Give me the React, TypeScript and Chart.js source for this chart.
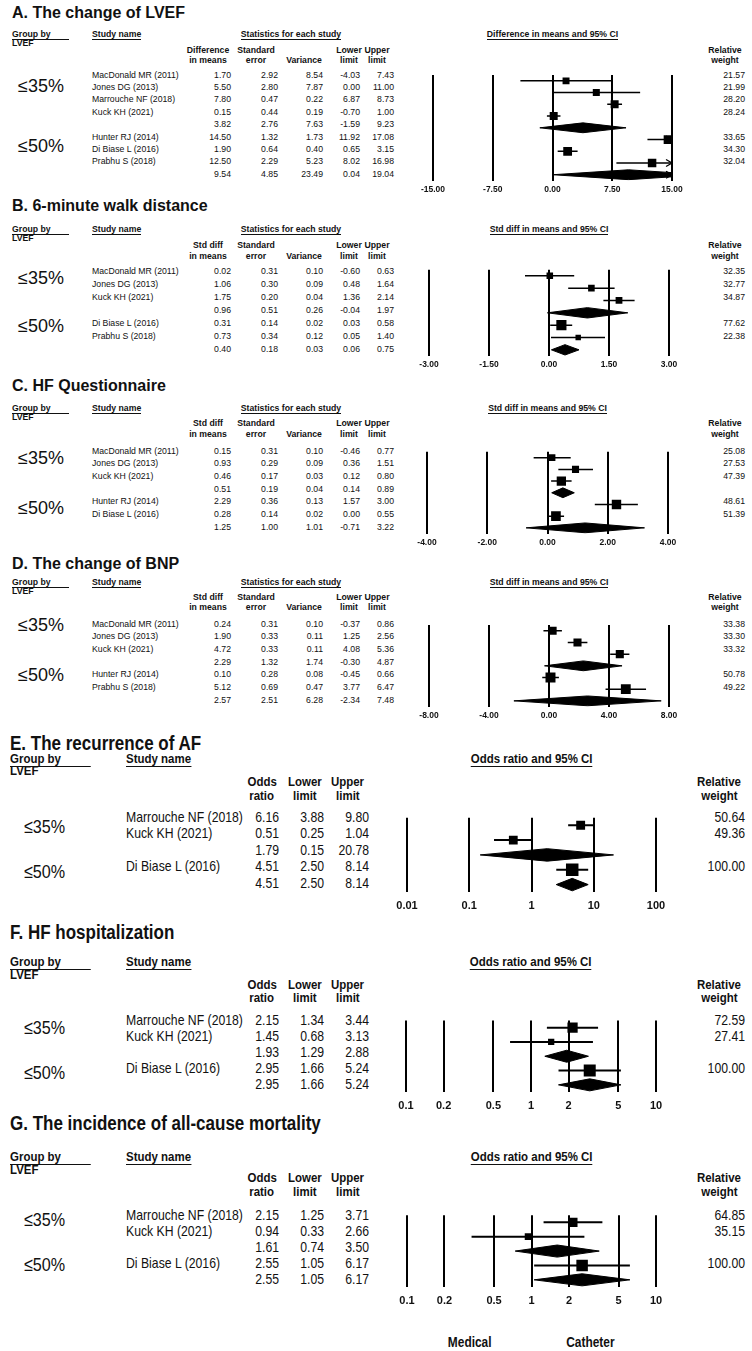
import React, { useEffect, useRef } from "react";
import { Chart, registerables } from "chart.js";
Chart.register(...registerables);

const SANS = "'Liberation Sans', Arial, Helvetica, sans-serif";
const NARROW_SCALE = 0.85;
const GROUP_LABELS = ["≤35%", "≤50%"];

// ---------- Panel A: change of LVEF ----------
const A_studies = ["MacDonald MR (2011)", "Jones DG (2013)", "Marrouche NF (2018)", "Kuck KH (2021)", "", "Hunter RJ (2014)", "Di Biase L (2016)", "Prabhu S (2018)", ""];
const A_est = [1.7, 5.5, 7.8, 0.15, 3.82, 14.5, 1.9, 12.5, 9.54];
const A_se = [2.92, 2.8, 0.47, 0.44, 2.76, 1.32, 0.64, 2.29, 4.85];
const A_var = [8.54, 7.87, 0.22, 0.19, 7.63, 1.73, 0.4, 5.23, 23.49];
const A_lower = [-4.03, 0.0, 6.87, -0.7, -1.59, 11.92, 0.65, 8.02, 0.04];
const A_upper = [7.43, 11.0, 8.73, 1.0, 9.23, 17.08, 3.15, 16.98, 19.04];
const A_weight = [21.57, 21.99, 28.2, 28.24, null, 33.65, 34.3, 32.04, null];
const A_ticks = [-15, -7.5, 0, 7.5, 15];

// ---------- Panel B: 6-minute walk distance ----------
const B_studies = ["MacDonald MR (2011)", "Jones DG (2013)", "Kuck KH (2021)", "", "Di Biase L (2016)", "Prabhu S (2018)", ""];
const B_est = [0.02, 1.06, 1.75, 0.96, 0.31, 0.73, 0.4];
const B_se = [0.31, 0.3, 0.2, 0.51, 0.14, 0.34, 0.18];
const B_var = [0.1, 0.09, 0.04, 0.26, 0.02, 0.12, 0.03];
const B_lower = [-0.6, 0.48, 1.36, -0.04, 0.03, 0.05, 0.06];
const B_upper = [0.63, 1.64, 2.14, 1.97, 0.58, 1.4, 0.75];
const B_weight = [32.35, 32.77, 34.87, null, 77.62, 22.38, null];
const B_ticks = [-3, -1.5, 0, 1.5, 3];

// ---------- Panel C: HF Questionnaire ----------
const C_studies = ["MacDonald MR (2011)", "Jones DG (2013)", "Kuck KH (2021)", "", "Hunter RJ (2014)", "Di Biase L (2016)", ""];
const C_est = [0.15, 0.93, 0.46, 0.51, 2.29, 0.28, 1.25];
const C_se = [0.31, 0.29, 0.17, 0.19, 0.36, 0.14, 1.0];
const C_var = [0.1, 0.09, 0.03, 0.04, 0.13, 0.02, 1.01];
const C_lower = [-0.46, 0.36, 0.12, 0.14, 1.57, 0.0, -0.71];
const C_upper = [0.77, 1.51, 0.8, 0.89, 3.0, 0.55, 3.22];
const C_weight = [25.08, 27.53, 47.39, null, 48.61, 51.39, null];
const C_ticks = [-4, -2, 0, 2, 4];

// ---------- Panel D: change of BNP ----------
const D_studies = ["MacDonald MR (2011)", "Jones DG (2013)", "Kuck KH (2021)", "", "Hunter RJ (2014)", "Prabhu S (2018)", ""];
const D_est = [0.24, 1.9, 4.72, 2.29, 0.1, 5.12, 2.57];
const D_se = [0.31, 0.33, 0.33, 1.32, 0.28, 0.69, 2.51];
const D_var = [0.1, 0.11, 0.11, 1.74, 0.08, 0.47, 6.28];
const D_lower = [-0.37, 1.25, 4.08, -0.3, -0.45, 3.77, -2.34];
const D_upper = [0.86, 2.56, 5.36, 4.87, 0.66, 6.47, 7.48];
const D_weight = [33.38, 33.3, 33.32, null, 50.78, 49.22, null];
const D_ticks = [-8, -4, 0, 4, 8];

// ---------- Panel E: recurrence of AF ----------
const E_studies = ["Marrouche NF (2018)", "Kuck KH (2021)", "", "Di Biase L (2016)", ""];
const E_or = [6.16, 0.51, 1.79, 4.51, 4.51];
const E_lower = [3.88, 0.25, 0.15, 2.5, 2.5];
const E_upper = [9.8, 1.04, 20.78, 8.14, 8.14];
const E_weight = [50.64, 49.36, null, 100.0, null];
const E_ticks = [0.01, 0.1, 1, 10, 100];

// ---------- Panel F: HF hospitalization ----------
const F_studies = ["Marrouche NF (2018)", "Kuck KH (2021)", "", "Di Biase L (2016)", ""];
const F_or = [2.15, 1.45, 1.93, 2.95, 2.95];
const F_lower = [1.34, 0.68, 1.29, 1.66, 1.66];
const F_upper = [3.44, 3.13, 2.88, 5.24, 5.24];
const F_weight = [72.59, 27.41, null, 100.0, null];
const F_ticks = [0.1, 0.2, 0.5, 1, 2, 5, 10];

// ---------- Panel G: all-cause mortality ----------
const G_studies = ["Marrouche NF (2018)", "Kuck KH (2021)", "", "Di Biase L (2016)", ""];
const G_or = [2.15, 0.94, 1.61, 2.55, 2.55];
const G_lower = [1.25, 0.33, 0.74, 1.05, 1.05];
const G_upper = [3.71, 2.66, 3.5, 6.17, 6.17];
const G_weight = [64.85, 35.15, null, 100.0, null];
const G_ticks = [0.1, 0.2, 0.5, 1, 2, 5, 10];

const FOOT_LABELS = ["Medical", "Catheter"];

type Layout = {
  titleY: number; hdrY: number; lvefY: number; colY: [number, number];
  row0: number; rowH: number; plotL: number; plotR: number; groupRows: number[]; boxK: number;
};
type Spec = {
  title: string; narrow: boolean; log: boolean;
  studies: string[]; est: number[]; se?: number[]; vari?: number[]; lower: number[]; upper: number[];
  weight: (number | null)[]; ticks: number[]; colHeads: [string, string][]; ciHeader: string; L: Layout;
};

const SMD_HEADS = (first: [string, string]): [string, string][] => [first, ["Standard", "error"], ["", "Variance"], ["Lower", "limit"], ["Upper", "limit"]];
const OR_HEADS: [string, string][] = [["Odds", "ratio"], ["Lower", "limit"], ["Upper", "limit"]];

const SPECS: Spec[] = [
  { title: "A. The change of LVEF", narrow: false, log: false, studies: A_studies, est: A_est, se: A_se, vari: A_var, lower: A_lower, upper: A_upper, weight: A_weight, ticks: A_ticks,
    colHeads: SMD_HEADS(["Difference", "in means"]), ciHeader: "Difference in means and 95% CI",
    L: { titleY: 12, hdrY: 34, lvefY: 43, colY: [50, 60], row0: 75, rowH: 12.4, plotL: 433, plotR: 672, groupRows: [0.9, 5.8], boxK: 1.5 } },
  { title: "B. 6-minute walk distance", narrow: false, log: false, studies: B_studies, est: B_est, se: B_se, vari: B_var, lower: B_lower, upper: B_upper, weight: B_weight, ticks: B_ticks,
    colHeads: SMD_HEADS(["Std diff", "in means"]), ciHeader: "Std diff in means and 95% CI",
    L: { titleY: 205, hdrY: 229, lvefY: 238, colY: [245, 256], row0: 271, rowH: 13.0, plotL: 429, plotR: 669, groupRows: [0.55, 4.3], boxK: 1.15 } },
  { title: "C. HF Questionnaire", narrow: false, log: false, studies: C_studies, est: C_est, se: C_se, vari: C_var, lower: C_lower, upper: C_upper, weight: C_weight, ticks: C_ticks,
    colHeads: SMD_HEADS(["Std diff", "in means"]), ciHeader: "Std diff in means and 95% CI",
    L: { titleY: 385, hdrY: 408, lvefY: 417, colY: [423, 434], row0: 451, rowH: 12.67, plotL: 427, plotR: 668, groupRows: [0.63, 4.5], boxK: 1.35 } },
  { title: "D. The change of BNP", narrow: false, log: false, studies: D_studies, est: D_est, se: D_se, vari: D_var, lower: D_lower, upper: D_upper, weight: D_weight, ticks: D_ticks,
    colHeads: SMD_HEADS(["Std diff", "in means"]), ciHeader: "Std diff in means and 95% CI",
    L: { titleY: 563, hdrY: 582, lvefY: 591, colY: [597, 607], row0: 624, rowH: 12.67, plotL: 429, plotR: 669, groupRows: [0.15, 4.1], boxK: 1.4 } },
  { title: "E. The recurrence of AF", narrow: true, log: true, studies: E_studies, est: E_or, lower: E_lower, upper: E_upper, weight: E_weight, ticks: E_ticks,
    colHeads: OR_HEADS, ciHeader: "Odds ratio and 95% CI",
    L: { titleY: 743, hdrY: 759, lvefY: 771, colY: [782, 796], row0: 817, rowH: 16.6, plotL: 407, plotR: 656, groupRows: [0.6, 3.3], boxK: 1.25 } },
  { title: "F. HF hospitalization", narrow: true, log: true, studies: F_studies, est: F_or, lower: F_lower, upper: F_upper, weight: F_weight, ticks: F_ticks,
    colHeads: OR_HEADS, ciHeader: "Odds ratio and 95% CI",
    L: { titleY: 932, hdrY: 962, lvefY: 975, colY: [985, 998], row0: 1020, rowH: 16, plotL: 406, plotR: 656, groupRows: [0.44, 3.25], boxK: 1.2 } },
  { title: "G. The incidence of all-cause mortality", narrow: true, log: true, studies: G_studies, est: G_or, lower: G_lower, upper: G_upper, weight: G_weight, ticks: G_ticks,
    colHeads: OR_HEADS, ciHeader: "Odds ratio and 95% CI",
    L: { titleY: 1123, hdrY: 1157, lvefY: 1170, colY: [1178, 1192], row0: 1215, rowH: 16, plotL: 407, plotR: 656, groupRows: [0.25, 3.1], boxK: 1.15 } },
];

type TxtProps = { x: number; y: number; align?: "left" | "right" | "center"; size: number; bold?: boolean; narrow?: boolean; children: React.ReactNode };
function Txt({ x, y, align = "left", size, bold, narrow, children }: TxtProps) {
  const h = Math.round(size * 1.3);
  const style: React.CSSProperties = {
    position: "absolute", top: y - h / 2, height: h, lineHeight: h + "px", fontSize: size,
    fontWeight: bold ? 700 : 400, fontFamily: SANS, color: "#111", whiteSpace: "nowrap",
  };
  if (align === "left") style.left = x;
  else if (align === "right") { style.left = x - 400; style.width = 400; style.textAlign = "right"; }
  else { style.left = x - 250; style.width = 500; style.textAlign = "center"; }
  const inner = narrow ? (
    <span style={{ display: "inline-block", transform: `scaleX(${NARROW_SCALE})`, transformOrigin: align === "left" ? "left center" : align === "right" ? "right center" : "center center" }}>{children}</span>
  ) : children;
  return <div style={style}>{inner}</div>;
}

const ul = (minW?: number): React.CSSProperties => ({ borderBottom: "1.2px solid #111", display: "inline-block", lineHeight: "1.05", minWidth: minW });

function Forest({ spec }: { spec: Spec }) {
  const ref = useRef<HTMLCanvasElement>(null);
  const L = spec.L;
  const n = spec.est.length;
  const PAD = 30;
  const axisH = spec.narrow ? 24 : 18;
  const areaTop = L.row0 - L.rowH / 2;
  const areaH = n * L.rowH;
  useEffect(() => {
    if (!ref.current) return;
    const min = spec.ticks[0];
    const max = spec.ticks[spec.ticks.length - 1];
    const ciW = spec.narrow ? 2 : 1.5;
    const h = 0.42;
    const datasets: any[] = [];
    spec.est.forEach((e, i) => {
      if (spec.weight[i] == null) return;
      datasets.push({ data: [{ x: spec.lower[i], y: i }, { x: spec.upper[i], y: i }], borderColor: "#000", borderWidth: ciW, pointRadius: 0, fill: false });
    });
    spec.est.forEach((e, i) => {
      if (spec.weight[i] != null) return;
      datasets.push({
        data: [{ x: spec.lower[i], y: i }, { x: e, y: i - h }, { x: spec.upper[i], y: i }, { x: e, y: i + h }, { x: spec.lower[i], y: i }],
        borderColor: "#000", backgroundColor: "#000", borderWidth: 1, pointRadius: 0, fill: "shape",
      });
    });
    spec.est.forEach((e, i) => {
      if (spec.log || spec.upper[i] <= max) return;
      const d = (max - min) * 0.025;
      datasets.push({ data: [{ x: max - d, y: i - 0.3 }, { x: max, y: i }, { x: max - d, y: i + 0.3 }], borderColor: "#000", borderWidth: 1.3, pointRadius: 0, fill: false });
    });
    const sq = spec.est.map((_, i) => i).filter((i) => spec.weight[i] != null);
    datasets.push({
      data: sq.map((i) => ({ x: spec.est[i], y: i })), showLine: false, pointStyle: "rect",
      pointRadius: sq.map((i) => (L.boxK * Math.sqrt(spec.weight[i] as number)) / Math.SQRT2),
      pointBackgroundColor: "#000", pointBorderColor: "#000", pointBorderWidth: 0,
    });
    const chart = new Chart(ref.current, {
      type: "line",
      data: { datasets },
      options: {
        animation: false, responsive: true, maintainAspectRatio: false, events: [],
        layout: { padding: { left: PAD, right: PAD, top: 0, bottom: 0 } },
        plugins: { legend: { display: false }, tooltip: { enabled: false } },
        scales: {
          x: {
            type: spec.log ? "logarithmic" : "linear", min, max,
            afterBuildTicks: (s: any) => { s.ticks = spec.ticks.map((v) => ({ value: v })); },
            afterFit: (s: any) => { s.height = axisH; s.paddingLeft = 0; s.paddingRight = 0; },
            grid: { color: "#000", lineWidth: 2, drawTicks: false },
            border: { display: false },
            ticks: {
              autoSkip: false, maxRotation: 0, color: "#111", padding: spec.narrow ? 7 : 4,
              font: { family: SANS, size: spec.narrow ? 11 : 8.5, weight: "bold" },
              callback: (v: any) => (spec.log ? String(Number(v)) : Number(v).toFixed(2)),
            },
          },
          y: { type: "linear", min: -0.5, max: n - 0.5, reverse: true, display: false },
        },
      } as any,
    });
    return () => chart.destroy();
  }, [spec]);
  return (
    <div style={{ position: "absolute", left: L.plotL - PAD, top: areaTop, width: L.plotR - L.plotL + 2 * PAD, height: areaH + axisH }}>
      <canvas ref={ref} />
    </div>
  );
}

function Panel({ spec }: { spec: Spec }) {
  const L = spec.L;
  const nw = spec.narrow;
  const hs = nw ? 13.5 : 8.7; // header size
  const rs = nw ? 14.4 : 8.7; // row size
  const leftX = nw ? 10 : 12;
  const studyX = nw ? 126 : 92;
  const colCenters = nw ? [262, 305, 348] : [208, 256, 304, 349, 377];
  const colRights = nw ? [279, 324, 369] : [231, 278, 323, 360, 394];
  const cols: number[][] = nw ? [spec.est, spec.lower, spec.upper] : [spec.est, spec.se!, spec.vari!, spec.lower, spec.upper];
  const rwCenter = nw ? 719 : 725;
  const plotC = (L.plotL + L.plotR) / 2;
  const rowY = (i: number) => L.row0 + i * L.rowH;
  return (
    <>
      <Txt x={leftX} y={L.titleY} size={nw ? 20 : 16} bold narrow={nw}>{spec.title}</Txt>
      <Txt x={leftX} y={L.hdrY} size={hs} bold narrow={nw}><span style={ul(nw ? 95 : 57)}>Group by</span></Txt>
      <Txt x={leftX} y={L.lvefY} size={hs} bold narrow={nw}>LVEF</Txt>
      <Txt x={studyX} y={L.hdrY} size={hs} bold narrow={nw}><span style={ul()}>Study name</span></Txt>
      {!nw && <Txt x={291} y={L.hdrY} align="center" size={hs} bold><span style={ul()}>Statistics for each study</span></Txt>}
      <Txt x={plotC} y={L.hdrY} align="center" size={hs} bold narrow={nw}><span style={ul()}>{spec.ciHeader}</span></Txt>
      {spec.colHeads.map((hd, c) => (
        <React.Fragment key={"h" + c}>
          {hd[0] && <Txt x={colCenters[c]} y={L.colY[0]} align="center" size={hs} bold narrow={nw}>{hd[0]}</Txt>}
          <Txt x={colCenters[c]} y={L.colY[1]} align="center" size={hs} bold narrow={nw}>{hd[1]}</Txt>
        </React.Fragment>
      ))}
      <Txt x={rwCenter} y={L.colY[0]} align="center" size={hs} bold narrow={nw}>Relative</Txt>
      <Txt x={rwCenter} y={L.colY[1]} align="center" size={hs} bold narrow={nw}>weight</Txt>
      {GROUP_LABELS.map((g, k) => (
        <Txt key={g} x={nw ? 24 : 18} y={rowY(L.groupRows[k])} size={nw ? 19 : 18} narrow={nw}>{g}</Txt>
      ))}
      {spec.est.map((_, i) => (
        <React.Fragment key={"r" + i}>
          {spec.studies[i] && <Txt x={studyX} y={rowY(i)} size={rs} narrow={nw}>{spec.studies[i]}</Txt>}
          {cols.map((col, c) => (
            <Txt key={c} x={colRights[c]} y={rowY(i)} align="right" size={rs} narrow={nw}>{col[i].toFixed(2)}</Txt>
          ))}
          {spec.weight[i] != null && <Txt x={745} y={rowY(i)} align="right" size={rs} narrow={nw}>{(spec.weight[i] as number).toFixed(2)}</Txt>}
        </React.Fragment>
      ))}
      <Forest spec={spec} />
    </>
  );
}

export default function App() {
  useEffect(() => { document.body.style.margin = "0"; }, []);
  return (
    <div style={{ position: "absolute", left: 0, top: 0, width: 752, height: 1351, background: "#fff", overflow: "hidden" }}>
      {SPECS.map((s, k) => <Panel key={k} spec={s} />)}
      <Txt x={470} y={1342} align="center" size={14} bold narrow>{FOOT_LABELS[0]}</Txt>
      <Txt x={590} y={1342} align="center" size={14} bold narrow>{FOOT_LABELS[1]}</Txt>
    </div>
  );
}
